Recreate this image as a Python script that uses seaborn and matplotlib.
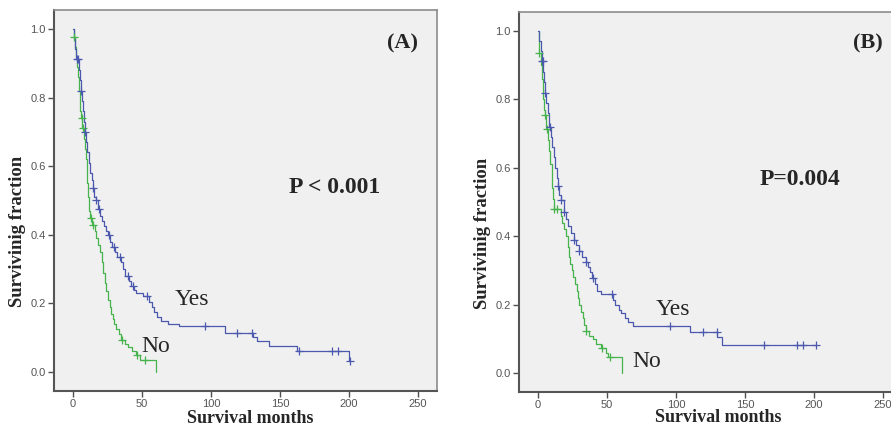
import numpy as np
import matplotlib
matplotlib.use("Agg")
import matplotlib.pyplot as plt
import seaborn as sns

# ============================================
# DATA
# ============================================
# Panel A - "No" group (green)
a_no_t = [0, 0.8, 1.5, 2.5, 3.0, 3.5, 4.2, 4.8, 5.3, 5.9, 6.8, 7.8, 8.5, 9.2, 9.8,
          10.5, 11.0, 11.5, 12.5, 14.0, 15.8, 17.0, 18.0, 19.5, 21.0, 22.0, 23.0,
          24.0, 25.5, 26.5, 27.5, 29.0, 30.0, 31.0, 33.0, 34.5, 38.0, 40.0, 43.0,
          46.0, 48.5, 60.0]
a_no_s = [1.0, 0.975, 0.947, 0.92, 0.89, 0.86, 0.82, 0.79, 0.76, 0.74, 0.71, 0.68,
          0.65, 0.62, 0.59, 0.55, 0.51, 0.47, 0.45, 0.43, 0.41, 0.39, 0.37, 0.35,
          0.32, 0.29, 0.26, 0.235, 0.21, 0.19, 0.17, 0.155, 0.14, 0.125, 0.11,
          0.093, 0.083, 0.072, 0.062, 0.05, 0.034, 0.0]
a_no_cens = [1.0, 6.2, 7.2, 12.8, 14.8, 35.5, 46.5, 52.0]

# Panel A - "Yes" group (blue)
a_yes_t = [0, 1.0, 1.8, 2.5, 4.5, 5.2, 5.6, 6.5, 7.2, 7.8, 8.5, 9.5, 10.3, 11.5,
           12.5, 13.5, 14.5, 15.5, 16.5, 18.0, 19.5, 21.0, 22.5, 24.0, 25.5, 27.0,
           28.5, 30.5, 32.0, 35.0, 36.0, 37.5, 40.5, 42.0, 44.0, 46.0, 51.0, 55.0,
           57.0, 59.0, 61.0, 64.0, 69.0, 77.0, 110.0, 130.6, 133.0, 142.0, 162.0,
           200.0]
a_yes_s = [1.0, 0.97, 0.94, 0.913, 0.88, 0.85, 0.82, 0.79, 0.76, 0.73, 0.70, 0.67,
           0.64, 0.61, 0.58, 0.56, 0.536, 0.51, 0.50, 0.475, 0.455, 0.44, 0.425,
           0.41, 0.40, 0.38, 0.365, 0.35, 0.335, 0.32, 0.30, 0.28, 0.265, 0.25,
           0.24, 0.23, 0.222, 0.205, 0.19, 0.175, 0.16, 0.149, 0.14, 0.134, 0.115,
           0.103, 0.09, 0.077, 0.062, 0.031]
a_yes_cens = [2.8, 3.3, 5.8, 8.8, 14.8, 16.8, 19.0, 25.8, 29.5, 34.0, 40.0, 43.5,
              53.5, 96.0, 119.0, 130.0, 164.0, 188.0, 192.0, 201.0]

# Panel B - "No" group (green)
b_no_t = [0, 0.4, 2.0, 2.8, 3.6, 4.5, 5.0, 6.0, 7.0, 8.0, 9.0, 9.8, 10.5, 11.2,
          11.6, 16.7, 17.5, 19.0, 20.5, 21.5, 22.5, 23.5, 24.5, 25.5, 26.5, 28.0,
          29.0, 30.0, 31.0, 32.5, 33.5, 34.5, 37.0, 40.0, 42.0, 46.0, 49.0, 51.0,
          61.0]
b_no_s = [1.0, 0.935, 0.9, 0.86, 0.80, 0.77, 0.754, 0.713, 0.68, 0.65, 0.61, 0.58,
          0.54, 0.51, 0.48, 0.46, 0.44, 0.42, 0.40, 0.37, 0.34, 0.32, 0.30, 0.28,
          0.26, 0.24, 0.22, 0.20, 0.18, 0.16, 0.14, 0.123, 0.11, 0.10, 0.085,
          0.073, 0.06, 0.047, 0.0]
b_no_cens = [0.8, 5.2, 6.4, 11.8, 13.8, 34.8, 46.4, 52.0]

# Panel B - "Yes" group (blue)
b_yes_t = [0, 1.0, 2.0, 2.7, 4.0, 4.6, 5.0, 6.0, 7.0, 8.2, 9.5, 10.5, 11.5, 12.3,
           13.5, 14.3, 15.5, 16.5, 18.5, 20.0, 22.0, 24.0, 25.8, 27.5, 29.5, 32.0,
           34.5, 36.5, 38.0, 39.5, 41.0, 42.8, 46.0, 54.5, 56.0, 59.0, 60.5, 63.0,
           65.0, 69.0, 110.0, 130.0, 133.0, 201.5]
b_yes_s = [1.0, 0.97, 0.94, 0.912, 0.88, 0.85, 0.818, 0.79, 0.76, 0.72, 0.69, 0.66,
           0.63, 0.60, 0.57, 0.546, 0.52, 0.507, 0.472, 0.45, 0.43, 0.41, 0.39,
           0.375, 0.358, 0.34, 0.326, 0.31, 0.295, 0.279, 0.26, 0.24, 0.23, 0.215,
           0.2, 0.185, 0.175, 0.16, 0.15, 0.138, 0.12, 0.105, 0.082, 0.082]
b_yes_cens = [2.9, 3.3, 5.2, 8.7, 14.5, 16.8, 18.8, 26.0, 29.7, 34.8, 39.9, 53.6,
              96.0, 119.6, 129.5, 164.0, 188.0, 192.0, 201.5]

x_ticks = [0, 50, 100, 150, 200, 250]
y_ticks = [0.0, 0.2, 0.4, 0.6, 0.8, 1.0]

GREEN = "#46b34c"
BLUE = "#4a58ad"

# ============================================
# STYLE
# ============================================
sns.set_style("ticks")
plt.rcParams["font.family"] = ["Liberation Sans", "DejaVu Sans"]
SERIF = ["Liberation Serif", "DejaVu Serif"]


def surv_at(times, surv, t):
    idx = np.searchsorted(np.asarray(times), t, side="right") - 1
    return np.asarray(surv)[idx]


def km_panel(ax, no_t, no_s, no_c, yes_t, yes_s, yes_c):
    ax.set_facecolor("#f0f0f0")
    for t, s, c, col in [(no_t, no_s, no_c, GREEN), (yes_t, yes_s, yes_c, BLUE)]:
        sns.lineplot(x=t, y=s, drawstyle="steps-post", estimator=None, sort=False,
                     color=col, linewidth=0.9, ax=ax)
        sns.scatterplot(x=c, y=surv_at(t, s, c), marker="+", s=26, color=col,
                        linewidth=0.9, ax=ax, zorder=3)
    ax.set_xlim(-13.75, 263.75)
    ax.set_ylim(-0.055, 1.055)
    ax.set_xticks(x_ticks)
    ax.set_yticks(y_ticks)
    ax.set_yticklabels([f"{v:.1f}" for v in y_ticks])
    ax.tick_params(direction="out", length=4, width=1, color="#505050",
                   labelcolor="#555555", labelsize=8, pad=2)
    for side in ["left", "bottom"]:
        ax.spines[side].set_color("#555555")
        ax.spines[side].set_linewidth(1.5)
    for side in ["top", "right"]:
        ax.spines[side].set_visible(True)
        ax.spines[side].set_color("#8c8c8c")
        ax.spines[side].set_linewidth(1.2)
    ax.set_xlabel("Survival months", family=SERIF, fontweight="bold", fontsize=13)
    ax.set_ylabel("Survivinig fraction", family=SERIF, fontweight="bold", fontsize=13.5)
    ax.xaxis.label.set_va("center")
    ax.yaxis.label.set_va("center")


# ============================================
# FIGURE
# ============================================
fig = plt.figure(figsize=(8.91, 4.32), dpi=100)
ax_a = fig.add_axes([54 / 891, 1 - 391 / 432, 383 / 891, 381 / 432])
ax_b = fig.add_axes([519 / 891, 1 - 392 / 432, 383 / 891, 380 / 432])

km_panel(ax_a, a_no_t, a_no_s, a_no_cens, a_yes_t, a_yes_s, a_yes_cens)
km_panel(ax_b, b_no_t, b_no_s, b_no_cens, b_yes_t, b_yes_s, b_yes_cens)

ax_a.xaxis.set_label_coords(0.512, -0.071)
ax_a.yaxis.set_label_coords(-0.094, 0.42)
ax_b.xaxis.set_label_coords(0.52, -0.068)
ax_b.yaxis.set_label_coords(-0.094, 0.418)

txt = dict(ha="center", va="center", family=SERIF)
ax_a.text(0.911, 0.913, "(A)", transform=ax_a.transAxes, fontsize=16, fontweight="bold", **txt)
ax_a.text(0.734, 0.533, "P < 0.001", transform=ax_a.transAxes, fontsize=17, fontweight="bold", **txt)
ax_a.text(0.36, 0.241, "Yes", transform=ax_a.transAxes, fontsize=17, **txt)
ax_a.text(0.266, 0.118, "No", transform=ax_a.transAxes, fontsize=17, **txt)

ax_b.text(0.911, 0.918, "(B)", transform=ax_b.transAxes, fontsize=16, fontweight="bold", **txt)
ax_b.text(0.734, 0.558, "P=0.004", transform=ax_b.transAxes, fontsize=17, fontweight="bold", **txt)
ax_b.text(0.402, 0.218, "Yes", transform=ax_b.transAxes, fontsize=17, **txt)
ax_b.text(0.334, 0.079, "No", transform=ax_b.transAxes, fontsize=17, **txt)

fig.savefig("out.png", dpi=100, facecolor="white")
